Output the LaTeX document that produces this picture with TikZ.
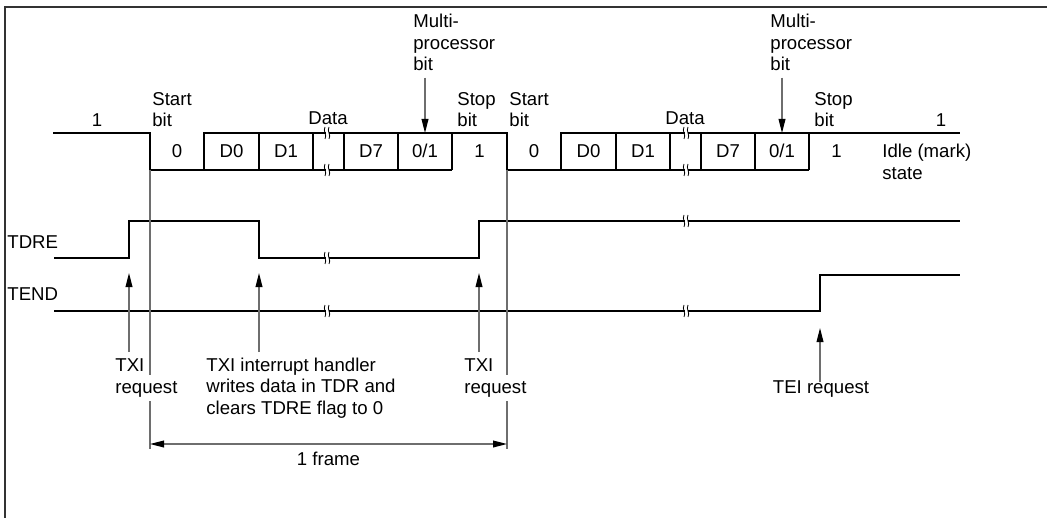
\documentclass[tikz,border=0pt]{standalone}
\usepackage{fontspec}
\setmainfont{Liberation Sans}
\usetikzlibrary{arrows.meta,positioning}
\definecolor{tdSig}{HTML}{000000}
\definecolor{tdGuide}{HTML}{6E6E6E}
\definecolor{tdFrame}{HTML}{333333}
\tikzset{
  sig/.style={line width=0.65pt, tdSig},
  guide/.style={line width=0.6pt, tdGuide},
  req/.style={guide, -{Triangle[length=7pt, width=3.4pt, color=black]}},
  dimline/.style={guide, {Triangle[length=7pt, width=3.4pt, color=black]}-{Triangle[length=7pt, width=3.4pt, color=black]}},
  frameline/.style={line width=0.8pt, tdFrame},
  txt/.style={font=\fontsize{9.3}{10.75}\selectfont, inner sep=0pt, align=left, anchor=base west},
  bittxt/.style={font=\fontsize{9.3}{10.75}\selectfont, inner sep=0pt, anchor=base},
  brk/.style={line width=0.4pt, black}
}
\begin{document}
\begin{tikzpicture}[x=0.5pt, y=-0.5pt]
  \useasboundingbox (0,0) rectangle (1047,518);
  \draw[frameline] (1047,7) -- (5,7) -- (5,518);

  % serial data line (anchor base = last line of a node)
  \draw[sig] (53,133) -- (150,133) -- (150,170) -- (452,170);
  \draw[sig] (204,170) -- (204,133) -- (507,133) -- (507,170) -- (809,170);
  \draw[sig] (561,170) -- (561,133) -- (960,133);
  \foreach \f/\o in {A/0, B/357}{
    \foreach \bx in {204,259,313,344,398,452}
      \draw[sig] (\bx+\o,133) -- (\bx+\o,170);
    \foreach \bx/\t [count=\i] in {177/0, 231.5/D0, 286/D1, 371/D7, 425/{0/1}}
      \node[bittxt] (bit\f\i) at (\bx+\o,158) {\t};
    \node[bittxt] (stopone\f) at (479.5+\o,158) {1};
    \node[txt] (start\f) at (152+\o,127) {Start\\bit};
    \node[txt] (stop\f) at (457+\o,127) {Stop\\bit};
    \node[bittxt] (data\f) at (328+\o,125) {Data};
    \node[txt] (mp\f) at (413+\o,71) {Multi-\\processor\\bit};
    \coordinate (mpbit\f) at (425+\o,133);
    \draw[req] ([yshift=-3pt]mp\f.south -| mpbit\f) -- (mpbit\f);
  }
  \node[bittxt] (markA) at (97,127) {1};
  \node[bittxt] (markB) at (941,127) {1};
  \node[txt] (idle) at (882,179) {Idle (mark)\\state};

  % flags
  \node[txt] (tdre) at (7,248) {TDRE};
  \node[txt] (tend) at (7,300) {TEND};
  \draw[sig] (54,258) -- (129,258) -- (129,221) -- (259,221) -- (259,258)
    -- (479,258) -- (479,221) -- (960,221);
  \draw[sig] (54,311) -- (820,311) -- (820,275) -- (960,275);

  % breaks
  \foreach \bx/\by in {327/133, 327/170, 327/258, 327/311, 686/133, 686/170, 686/221, 686/311}{
    \fill[white] (\bx-1.5,\by-6) rectangle (\bx+1.5,\by+6);
    \draw[brk] (\bx-2,\by-6) .. controls (\bx-4.5,\by-2) and (\bx+0.5,\by+2) .. (\bx-2,\by+6);
    \draw[brk] (\bx+2,\by-6) .. controls (\bx-0.5,\by-2) and (\bx+4.5,\by+2) .. (\bx+2,\by+6);
  }

  % requests
  \node[txt] (txiA) at (115,393) {TXI\\request};
  \node[txt] (handler) at (206,414) {TXI interrupt handler\\writes data in TDR and\\clears TDRE flag to 0};
  \node[txt] (txiB) at (464,393) {TXI\\request};
  \node[bittxt] (tei) at (821,393) {TEI request};
  \foreach \n/\rx/\ry/\ty in {riseA/129/273/352, fallA/259/273/352, riseB/479/273/352, teiup/820/328/382}{
    \coordinate (\n) at (\rx,\ry);
    \coordinate (\n base) at (\rx,\ty);
    \draw[req] (\n base) -- (\n);
  }

  % frame length
  \draw[guide] (150,170) -- (150,375) (150,401) -- (150,449);
  \draw[guide] (507,170) -- (507,375) (507,401) -- (507,449);
  \coordinate (frameL) at (150,444);
  \coordinate (frameR) at (507,444);
  \draw[dimline] (frameL) -- (frameR);
  \node[bittxt] (oneframe) at (328.5,465) {1 frame};
\end{tikzpicture}
\end{document}
